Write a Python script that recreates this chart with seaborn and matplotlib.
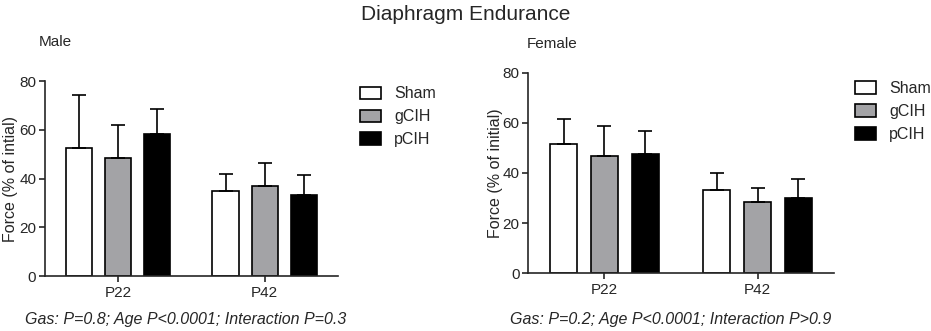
import numpy as np
import pandas as pd
import matplotlib
matplotlib.use("Agg")
import matplotlib.pyplot as plt
import seaborn as sns

ages = ["P22", "P42"]
groups = ["Sham", "gCIH", "pCIH"]

male_mean = {"Sham": [52.7, 34.8], "gCIH": [48.3, 37.0], "pCIH": [58.2, 33.3]}
male_top = {"Sham": [74.4, 42.0], "gCIH": [62.0, 46.3], "pCIH": [68.4, 41.5]}
female_mean = {"Sham": [51.6, 33.2], "gCIH": [46.9, 28.4], "pCIH": [47.6, 29.8]}
female_top = {"Sham": [61.5, 40.1], "gCIH": [58.6, 33.9], "pCIH": [56.9, 37.6]}

colors = ["#ffffff", "#a3a3a7", "#000000"]

sns.set_style("ticks")
plt.rcParams["font.family"] = ["Liberation Sans", "DejaVu Sans"]


def make_df(mean, top):
    rows = []
    for g in groups:
        for i, a in enumerate(ages):
            rows.append({"Age": a, "Group": g, "Force": mean[g][i], "Top": top[g][i]})
    return pd.DataFrame(rows)


fig = plt.figure(figsize=(9.31, 3.31), dpi=100)
ax1 = fig.add_axes([0.048, 0.166, 0.315, 0.589])
ax2 = fig.add_axes([0.567, 0.175, 0.329, 0.605])

panels = [
    (ax1, make_df(male_mean, male_top), "Force (% of intial)",
     "Gas: P=0.8; Age P<0.0001; Interaction P=0.3", (1.036, 1.03), 0.199, 1),
    (ax2, make_df(female_mean, female_top), "Force (% of initial)",
     "Gas: P=0.2; Age P<0.0001; Interaction P>0.9", (1.03, 1.015), 0.720, 0),
]

for ax, df, ylab, note, lpos, nx, lp in panels:
    sns.barplot(data=df, x="Age", y="Force", hue="Group", hue_order=groups,
                palette=colors, width=0.8, gap=0.33, edgecolor="black",
                linewidth=1.2, errorbar=None, ax=ax)
    # error bars only upwards
    for bars, g in zip(ax.containers, groups):
        sub_df = df[df["Group"] == g]
        xs = [b.get_x() + b.get_width() / 2 for b in bars]
        m = sub_df["Force"].values
        up = sub_df["Top"].values - m
        ax.errorbar(xs, m, yerr=[np.zeros_like(up), up], fmt="none",
                    ecolor="black", elinewidth=1.2, capsize=5, capthick=1.2)
    ax.set_xlim(-0.5, 1.5)
    ax.set_ylim(0, 80)
    ax.set_yticks([0, 20, 40, 60, 80])
    ax.set_xlabel("")
    ax.set_ylabel(ylab, fontsize=11.5, labelpad=lp)
    ax.tick_params(labelsize=11, width=1.2, length=4, pad=2)
    ax.tick_params(axis="x", pad=3.5)
    for s in ["left", "bottom"]:
        ax.spines[s].set_linewidth(1.2)
    sns.despine(ax=ax)
    ax.legend(loc="upper left", bbox_to_anchor=lpos, frameon=False,
              fontsize=11.5, handlelength=1.35, handleheight=0.85,
              labelspacing=0.5, handletextpad=0.8, borderaxespad=0.3)
    fig.text(nx, 0.035, note, ha="center", va="center", fontsize=11.5,
             style="italic")

fig.text(0.500, 0.955, "Diaphragm Endurance", ha="center", va="center", fontsize=15)
fig.text(0.042, 0.873, "Male", ha="left", va="center", fontsize=11)
fig.text(0.566, 0.866, "Female", ha="left", va="center", fontsize=11)

fig.savefig("out.png", dpi=100)
